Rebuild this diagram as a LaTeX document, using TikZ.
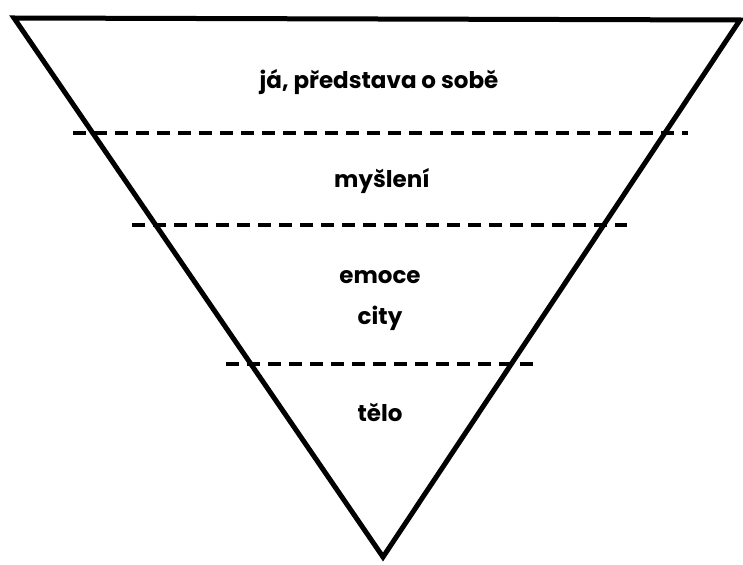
\documentclass[tikz,border=0pt]{standalone}
\usepackage{fontspec}
\setmainfont{Poppins}
\usetikzlibrary{positioning, calc}
\tikzset{
  every picture/.style={x=1pt, y=-1pt, line width=5pt},
  edge/.style={draw=black, line join=miter},
  divider/.style={draw=black, line width=4.5pt, dash pattern=on 13pt off 8pt},
  layer/.style={font=\fontsize{23}{27}\selectfont\bfseries, anchor=base, inner sep=0pt},
}
\begin{document}
\begin{tikzpicture}
  \useasboundingbox (0,0) rectangle (743,564);
  \coordinate (tl) at (14,18);
  \coordinate (tr) at (740,20);
  \coordinate (ap) at (383,557);
  \draw[edge] (tl) -- (tr) -- (ap) -- cycle;
  \draw[divider] (73,133) -- (688,133);
  \draw[divider] (132,225) -- (627,225);
  \draw[divider] (226,364) -- (533,364);
  \node[layer] (ja) at (379,89) {já, představa o sobě};
  \node[layer] (mysl) at (382,187) {myšlení};
  \node[layer] (emo) at (380,283) {emoce};
  \node[layer] (city) at (380,324) {city};
  \node[layer] (telo) at (380,421) {tělo};
\end{tikzpicture}
\end{document}
